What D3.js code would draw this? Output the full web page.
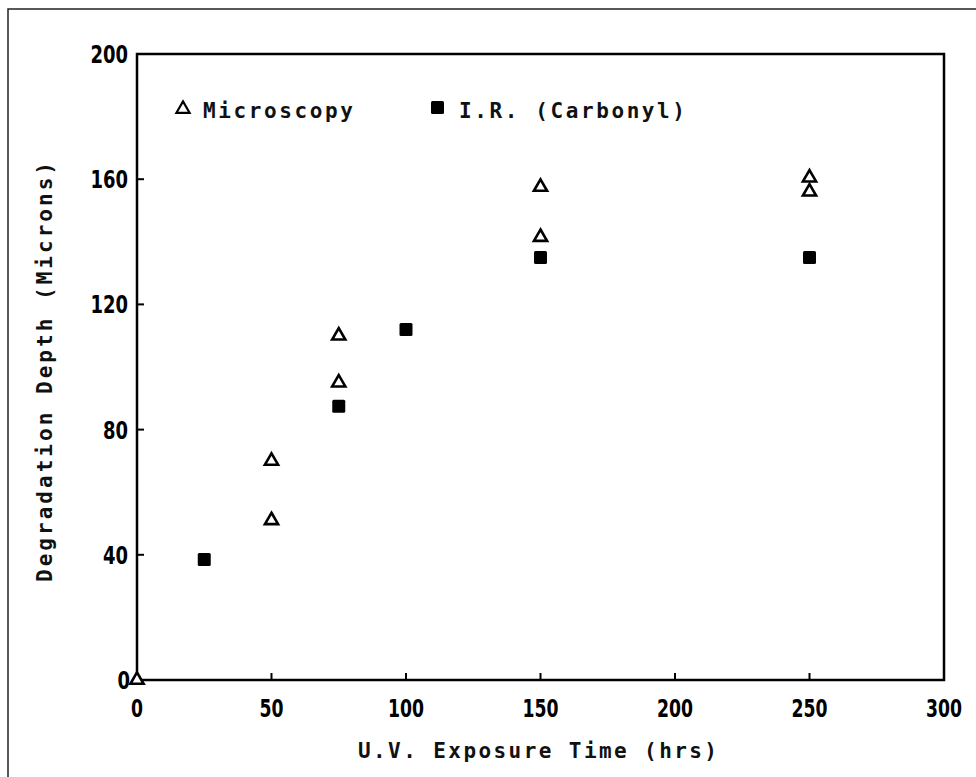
<!DOCTYPE html>
<html>
<head>
  <meta charset="utf-8">
  <title>Degradation Depth vs U.V. Exposure</title>
  <script src="https://cdn.jsdelivr.net/npm/d3@7"></script>
  <style>
    html, body { margin: 0; padding: 0; background: #fff; }
    svg { display: block; }
    .tick-label {
      font-family: "Liberation Sans Narrow", "Arial Narrow", "DejaVu Sans Condensed", sans-serif;
      font-weight: bold;
      font-size: 24px;
      fill: #000;
    }
    .title {
      font-family: "DejaVu Sans Mono", monospace;
      font-size: 21px;
      font-weight: bold;
      fill: #111;
    }
  </style>
</head>
<body>
<svg width="976" height="777"></svg>
<script>
  // data
  var microTime  = [0, 50, 50, 75, 75, 150, 150, 250, 250];
  var microDepth = [0, 70, 51, 110, 95, 157.5, 141.5, 160.5, 156];
  var irTime  = [25, 75, 100, 150, 250];
  var irDepth = [38.5, 87.5, 112, 135, 135];

  var xTicks = [0, 50, 100, 150, 200, 250, 300];
  var yTicks = [0, 40, 80, 120, 160, 200];

  var svg = d3.select("svg");
  var plotL = 137, plotR = 944, plotT = 54, plotB = 680;

  var x = d3.scaleLinear().domain([0, 300]).range([plotL, plotR]);
  var y = d3.scaleLinear().domain([0, 200]).range([plotB, plotT]);

  // outer figure border (runs off the right and bottom of the page)
  svg.append("path")
    .attr("d", "M8,790 V9 H990")
    .attr("fill", "none")
    .attr("stroke", "#222")
    .attr("stroke-width", 1.5);

  // plot frame
  svg.append("rect")
    .attr("x", plotL).attr("y", plotT)
    .attr("width", plotR - plotL).attr("height", plotB - plotT)
    .attr("fill", "none")
    .attr("stroke", "#000")
    .attr("stroke-width", 2.5);

  // x ticks, pointing inward
  svg.append("g")
    .selectAll("line")
    .data(xTicks.slice(1, -1))
    .enter()
    .append("line")
    .attr("x1", function (d) { return x(d); })
    .attr("x2", function (d) { return x(d); })
    .attr("y1", plotB)
    .attr("y2", plotB - 7)
    .attr("stroke", "#000")
    .attr("stroke-width", 2);

  svg.append("g")
    .selectAll("text")
    .data(xTicks)
    .enter()
    .append("text")
    .attr("class", "tick-label")
    .attr("x", function (d) { return x(d); })
    .attr("y", 717)
    .attr("text-anchor", "middle")
    .attr("textLength", function (d) { return String(d).length * 12; })
    .attr("lengthAdjust", "spacingAndGlyphs")
    .text(function (d) { return d; });

  // y ticks
  svg.append("g")
    .selectAll("line")
    .data(yTicks.slice(1, -1))
    .enter()
    .append("line")
    .attr("x1", plotL)
    .attr("x2", plotL + 7)
    .attr("y1", function (d) { return y(d); })
    .attr("y2", function (d) { return y(d); })
    .attr("stroke", "#000")
    .attr("stroke-width", 2);

  svg.append("g")
    .selectAll("text")
    .data(yTicks)
    .enter()
    .append("text")
    .attr("class", "tick-label")
    .attr("x", function (d) { return d === 0 ? 130 : 128; })
    .attr("y", function (d) { return y(d) + 9; })
    .attr("text-anchor", "end")
    .attr("textLength", function (d) { return String(d).length * 12.5; })
    .attr("lengthAdjust", "spacingAndGlyphs")
    .text(function (d) { return d; });

  // axis titles
  svg.append("text")
    .attr("class", "title")
    .attr("x", 358)
    .attr("y", 758)
    .attr("textLength", 359)
    .attr("lengthAdjust", "spacing")
    .text("U.V. Exposure Time (hrs)");

  svg.append("text")
    .attr("class", "title")
    .attr("transform", "translate(52,582) rotate(-90)")
    .attr("textLength", 420)
    .attr("lengthAdjust", "spacing")
    .text("Degradation Depth (Microns)");

  var tri = d3.symbol().type(d3.symbolTriangle).size(75);
  var sq = 13;

  // microscopy points
  svg.append("g")
    .selectAll("path")
    .data(microTime)
    .enter()
    .append("path")
    .attr("d", tri)
    .attr("transform", function (d, i) {
      return "translate(" + x(d) + "," + y(microDepth[i]) + ")";
    })
    .attr("fill", "#fff")
    .attr("stroke", "#000")
    .attr("stroke-width", 2.6);

  // I.R. carbonyl points
  svg.append("g")
    .selectAll("rect")
    .data(irTime)
    .enter()
    .append("rect")
    .attr("x", function (d) { return x(d) - sq / 2; })
    .attr("y", function (d, i) { return y(irDepth[i]) - sq / 2; })
    .attr("width", sq)
    .attr("height", sq)
    .attr("rx", 1.5)
    .attr("fill", "#000");

  // legend
  svg.append("path")
    .attr("d", tri)
    .attr("transform", "translate(183,109)")
    .attr("fill", "#fff")
    .attr("stroke", "#000")
    .attr("stroke-width", 2.2);
  svg.append("text")
    .attr("class", "title")
    .attr("x", 203)
    .attr("y", 118)
    .attr("textLength", 150)
    .attr("lengthAdjust", "spacing")
    .text("Microscopy");

  svg.append("rect")
    .attr("x", 431).attr("y", 101)
    .attr("width", sq).attr("height", sq)
    .attr("rx", 1.5)
    .attr("fill", "#000");
  svg.append("text")
    .attr("class", "title")
    .attr("x", 459)
    .attr("y", 118)
    .attr("textLength", 226)
    .attr("lengthAdjust", "spacing")
    .text("I.R. (Carbonyl)");
</script>
</body>
</html>
